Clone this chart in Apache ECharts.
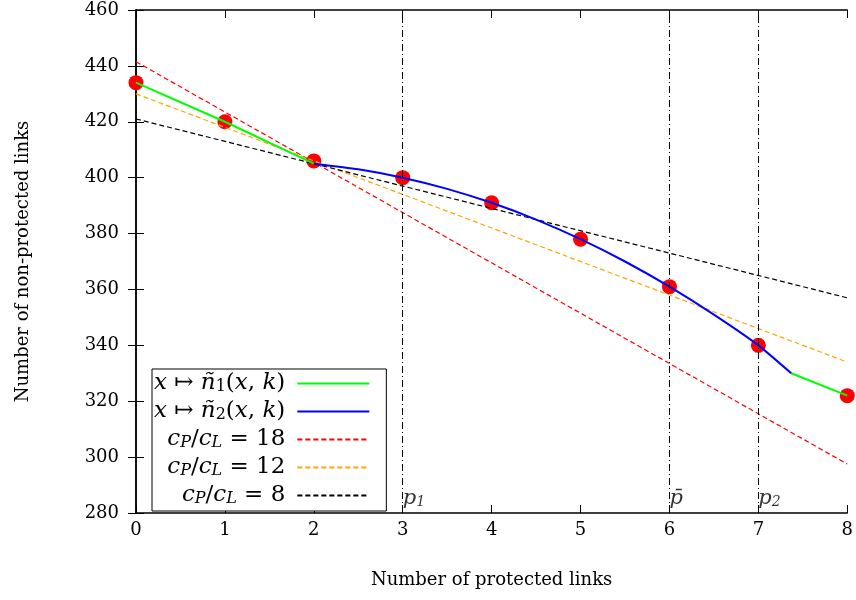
<!DOCTYPE html>
<html>
<head>
<meta charset="utf-8">
<script src="https://cdn.jsdelivr.net/npm/echarts@6/dist/echarts.min.js"></script>
<style>
  html, body { margin: 0; padding: 0; background: #fff; }
  #main { width: 856px; height: 600px; }
</style>
</head>
<body>
<div id="main"></div>
<script>
// measured points (red dots)
var measured = [[0, 434], [1, 420], [2, 406], [3, 400], [4, 391], [5, 378], [6, 361], [7, 340], [8, 322]];
// x -> n1~(x,k), two green pieces, '-' breaks the line
var n1Curve = [[0, 434], [1, 420], [2, 405], [2, '-'], [7.37, 330], [8, 322]];
// x -> n2~(x,k)
var n2Curve = [[2, 405], [2.5, 403], [3, 400], [3.5, 396], [4, 391], [4.5, 385], [5, 378],
               [5.5, 370], [6, 361], [6.5, 351], [7, 340], [7.37, 330]];
// cost ratio lines
var ratio18 = [[0, 441.5], [8, 297.5]];
var ratio12 = [[0, 430], [8, 334]];
var ratio8 = [[0, 421], [8, 357]];
// vertical markers
var markX = [3, 6, 7];
var markNames = ['{i|p}{sub|1}', '{i|p\u0304}', '{i|p}{sub|2}'];

var FONT = 'DejaVu Serif';
function mathRich(size, subSize) {
  return {
    i: { fontFamily: FONT, fontStyle: 'italic', fontSize: size, color: '#000' },
    r: { fontFamily: FONT, fontSize: size, color: '#000' },
    sub: { fontFamily: FONT, fontStyle: 'italic', fontSize: subSize, color: '#000', verticalAlign: 'bottom', lineHeight: subSize + 2 },
    subr: { fontFamily: FONT, fontSize: subSize, color: '#000', verticalAlign: 'bottom', lineHeight: subSize + 2 }
  };
}

var legendText = {
  n1: '{i|x}{r| \u21a6 }{i|\u00f1}{subr|1}{r|(}{i|x}{r|, }{i|k}{r|)}',
  n2: '{i|x}{r| \u21a6 }{i|\u00f1}{subr|2}{r|(}{i|x}{r|, }{i|k}{r|)}',
  r18: '{i|c}{sub|P}{r|/}{i|c}{sub|L}{r| = 18}',
  r12: '{i|c}{sub|P}{r|/}{i|c}{sub|L}{r| = 12}',
  r8: '{i|c}{sub|P}{r|/}{i|c}{sub|L}{r| = 8}'
};

var axisCommon = {
  axisLine: { lineStyle: { color: '#000', width: 1.5 } },
  axisTick: { inside: true, length: 8, lineStyle: { color: '#000', width: 1 } },
  splitLine: { show: false },
  axisLabel: { fontFamily: FONT, fontSize: 18, color: '#000' }
};

var chart = echarts.init(document.getElementById('main'));
chart.setOption({
  animation: false,
  grid: { left: 136, right: 8, top: 10, bottom: 87 },
  xAxis: [
    Object.assign({}, axisCommon, {
      type: 'value', min: 0, max: 8, interval: 1,
      name: 'Number of protected links', nameLocation: 'middle', nameGap: 58,
      nameTextStyle: { fontFamily: FONT, fontSize: 18, color: '#000' },
      axisLabel: { fontFamily: FONT, fontSize: 18, color: '#000', margin: 8 }
    }),
    Object.assign({}, axisCommon, {
      type: 'value', min: 0, max: 8, interval: 1, position: 'top',
      axisLabel: { show: false }
    })
  ],
  yAxis: [
    Object.assign({}, axisCommon, {
      type: 'value', min: 280, max: 460, interval: 20,
      name: 'Number of non-protected links', nameLocation: 'middle', nameGap: 104,
      nameTextStyle: { fontFamily: FONT, fontSize: 18, color: '#000' },
      axisLabel: { fontFamily: FONT, fontSize: 18, color: '#000', margin: 17 }
    }),
    Object.assign({}, axisCommon, {
      type: 'value', min: 280, max: 460, interval: 20, position: 'right',
      axisLabel: { show: false }
    })
  ],
  legend: {
    orient: 'vertical',
    left: 152, top: 369,
    align: 'right',
    itemWidth: 72, itemHeight: 14, itemGap: 5,
    padding: [3, 16, 4, 2],
    borderColor: '#000', borderWidth: 1,
    backgroundColor: '#fff',
    itemStyle: { opacity: 0 },
    data: ['n1', 'n2', 'r18', 'r12', 'r8'],
    formatter: function (name) { return legendText[name]; },
    textStyle: { fontFamily: FONT, fontSize: 23, lineHeight: 22, padding: [0, 7, 0, 0], rich: mathRich(23, 16) }
  },
  series: [
    {
      name: 'points', type: 'scatter', data: measured, z: 1, clip: false,
      symbolSize: 15, itemStyle: { color: '#ff0000', opacity: 1 },
      markLine: {
        silent: true, symbol: 'none', animation: false,
        label: { show: false },
        lineStyle: { color: '#000', width: 1, type: [7, 3, 1, 3] },
        data: markX.map(function (v) { return { xAxis: v }; })
      }
    },
    {
      name: 'marks', type: 'scatter', symbolSize: 0, z: 3, silent: true,
      data: markX.map(function (v, i) { return { value: [v, 280], label: { formatter: markNames[i] } }; }),
      label: { show: true, position: 'right', distance: 0, offset: [0, -14], color: '#000', rich: mathRich(21, 14) }
    },
    {
      name: 'r18', type: 'line', data: ratio18, symbol: 'none', z: 3,
      lineStyle: { color: '#ff0000', width: 1.2, type: [5, 3] }, itemStyle: { color: '#ff0000' }
    },
    {
      name: 'r12', type: 'line', data: ratio12, symbol: 'none', z: 3,
      lineStyle: { color: '#ffa500', width: 1.2, type: [5, 3] }, itemStyle: { color: '#ffa500' }
    },
    {
      name: 'r8', type: 'line', data: ratio8, symbol: 'none', z: 3,
      lineStyle: { color: '#000', width: 1.2, type: [5, 3] }, itemStyle: { color: '#000' }
    },
    {
      name: 'n1', type: 'line', data: n1Curve, symbol: 'none', z: 4, connectNulls: false,
      lineStyle: { color: '#00ff00', width: 2 }, itemStyle: { color: '#00ff00' }
    },
    {
      name: 'n2', type: 'line', data: n2Curve, symbol: 'none', z: 4, smooth: 0.2,
      lineStyle: { color: '#0000ff', width: 2 }, itemStyle: { color: '#0000ff' }
    }
  ]
});
</script>
</body>
</html>
